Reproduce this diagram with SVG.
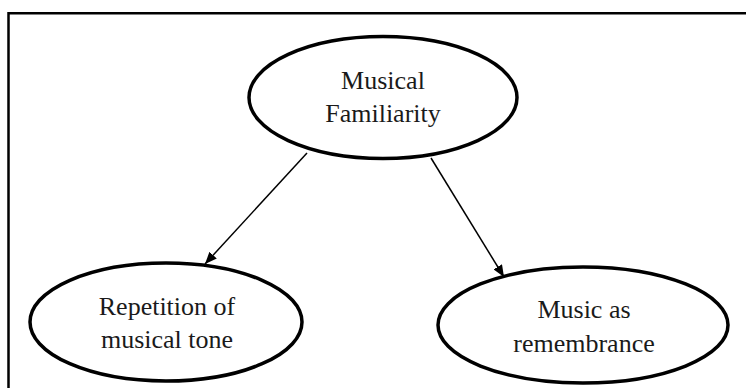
<svg xmlns="http://www.w3.org/2000/svg" width="747" height="388" viewBox="0 0 747 388">
<style>
.node ellipse{fill:#fff;stroke:#000;stroke-width:3.5}
.node text{font-family:"Liberation Serif","Times New Roman",serif;font-size:26px;fill:#1a1a1a;text-anchor:middle}
.conn line{stroke:#000;stroke-width:1.5;fill:none}
</style>
<defs>
<marker id="ah" viewBox="0 0 12 10" refX="12" refY="5" markerWidth="12" markerHeight="10" markerUnits="userSpaceOnUse" orient="auto">
<path d="M0,0 L12,5 L0,10 Z" fill="#000"/>
</marker>
</defs>
<rect width="747" height="388" fill="#fff"/>
<path d="M8.5,388 L8.5,13.3 L746,13.3" fill="none" stroke="#000" stroke-width="2.5"/>
<g class="conn">
<line x1="307" y1="153" x2="205" y2="264" marker-end="url(#ah)"/>
<line x1="431" y1="158" x2="504" y2="277" marker-end="url(#ah)"/>
</g>
<g id="musical-familiarity" class="node">
<ellipse cx="383" cy="97.5" rx="134" ry="61"/>
<text x="383" y="89">Musical</text>
<text x="383" y="122">Familiarity</text>
</g>
<g id="repetition" class="node">
<ellipse cx="166" cy="322" rx="136" ry="59"/>
<text x="167" y="315">Repetition of</text>
<text x="167" y="348">musical tone</text>
</g>
<g id="remembrance" class="node">
<ellipse cx="583" cy="325" rx="145" ry="58"/>
<text x="584" y="318">Music as</text>
<text x="584" y="352">remembrance</text>
</g>
</svg>
